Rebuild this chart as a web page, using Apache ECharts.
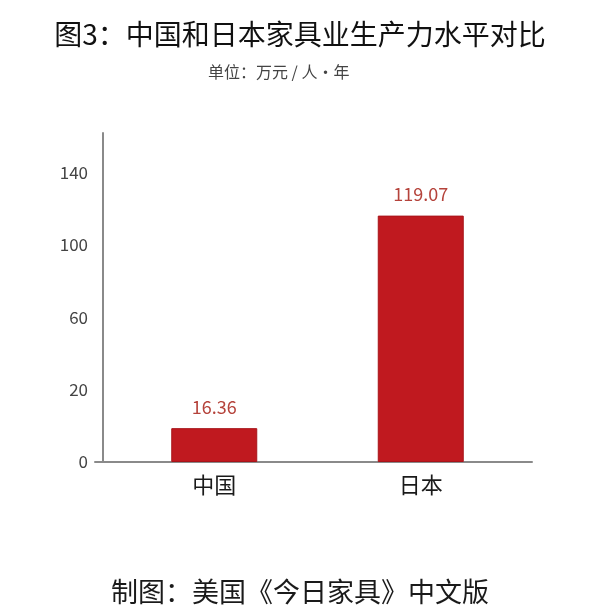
<!DOCTYPE html>
<html>
<head>
<meta charset="utf-8">
<script src="https://cdn.jsdelivr.net/npm/echarts@6/dist/echarts.min.js"></script>
<style>
html,body{margin:0;padding:0;background:#fff;}
#c{width:600px;height:616px;}
</style>
</head>
<body>
<div id="c"></div>
<script>
const categories = ["中国", "日本"];
const values = [16.36, 119.07];
const yTickLabels = ["0", "20", "60", "100", "140"];
const titleText = "图3：中国和日本家具业生产力水平对比";
const unitText = "单位：万元 / 人·年";
const sourceText = "制图：美国《今日家具》中文版";

const FONT = '"Noto Sans CJK SC", "Noto Sans", sans-serif';
const chart = echarts.init(document.getElementById('c'));
chart.setOption({
  backgroundColor: '#ffffff',
  animation: false,
  textStyle: { fontFamily: FONT },
  title: [
    { text: titleText, left: 'center', top: 15,
      textStyle: { fontSize: 28, fontWeight: 'normal', color: '#111', fontFamily: FONT } },
    { text: unitText, left: 203, top: 59,
      textStyle: { fontSize: 16, fontWeight: 'normal', color: '#444', fontFamily: FONT } },
    { text: sourceText, left: 'center', top: 573,
      textStyle: { fontSize: 27, fontWeight: 'normal', color: '#1a1a1a', fontFamily: FONT } }
  ],
  grid: [
    { left: 111, right: 76, top: 133, bottom: 154, containLabel: false },
    { left: 95, right: 68, top: 133, bottom: 154, containLabel: false }
  ],
  xAxis: [{
    type: 'category',
    gridIndex: 0,
    data: categories,
    axisLine: { show: false },
    axisTick: { show: false },
    axisLabel: { fontSize: 22, color: '#1a1a1a', margin: 12, fontFamily: FONT }
  }, {
    type: 'category',
    gridIndex: 1,
    data: [''],
    axisLine: { show: true, lineStyle: { color: '#8a8a8a', width: 2 } },
    axisTick: { show: false },
    axisLabel: { show: false }
  }],
  yAxis: [{
    type: 'value',
    gridIndex: 0,
    min: 0,
    max: 159,
    interval: 35,
    offset: 8,
    splitLine: { show: false },
    axisLine: { show: true, lineStyle: { color: '#8a8a8a', width: 2 } },
    axisTick: { show: false },
    axisLabel: {
      showMaxLabel: false,
      fontSize: 17, color: '#444', margin: 15, fontFamily: FONT,
      formatter: function (v) {
        const i = Math.round(v / 35);
        return yTickLabels[i] !== undefined ? yTickLabels[i] : '';
      }
    }
  }, {
    type: 'value',
    gridIndex: 1,
    min: 0,
    max: 159,
    show: false
  }],
  series: [{
    type: 'bar',
    xAxisIndex: 0,
    yAxisIndex: 0,
    data: values,
    barWidth: 86,
    itemStyle: { color: '#c0191f', borderColor: '#a8141a', borderWidth: 1 },
    label: {
      show: true, position: 'top', distance: 12,
      fontSize: 18, color: '#b5433b', fontFamily: FONT,
      formatter: function (p) { return p.value.toFixed(2); }
    }
  }]
});
</script>
</body>
</html>
